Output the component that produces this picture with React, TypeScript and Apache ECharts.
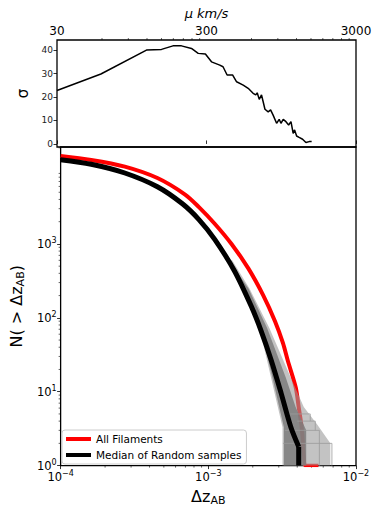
import React, { useEffect, useRef } from 'react';
import * as echarts from 'echarts';

const FONT = 'DejaVu Sans';

// ---- top panel: sigma vs mu (km/s) ----
const muValues = [30, 59, 119, 150, 179, 204, 238, 264, 295, 324, 368, 387, 412, 448, 477, 528, 570, 615, 641, 655, 676, 700, 718, 738, 776, 805, 837, 883, 919, 944, 978, 1020, 1063, 1102, 1140, 1165, 1202, 1250, 1318, 1387, 1459, 1515];
const sigmaValues = [22.8, 29.8, 40.0, 40.3, 41.8, 41.8, 40.7, 38.6, 38.3, 35.0, 33.6, 32.9, 29.4, 29.4, 26.5, 25.1, 23.7, 21.6, 20.9, 21.8, 19.0, 20.9, 18.0, 14.8, 13.7, 14.5, 12.3, 8.8, 10.5, 8.8, 10.5, 9.5, 8.1, 9.5, 4.5, 6.0, 3.4, 2.8, 2.0, 0.6, 1.0, 1.0];

// ---- bottom panel: cumulative counts ----
const redDz = [1.0e-4, 1.612e-4, 2.721e-4, 4.522e-4, 6.965e-4, 8.64e-4, 1.105e-3, 1.436e-3, 1.866e-3, 2.35e-3, 2.828e-3, 3.199e-3, 3.455e-3, 3.909e-3, 4.093e-3, 4.285e-3, 4.385e-3];
const redN = [15490, 13700, 11110, 7790, 4656, 3148, 1876, 997, 467, 203, 90, 45.7, 26.2, 11.4, 6.17, 3.33, 1.8];
const redTailDz = [4.385e-3, 4.487e-3, 5.57e-3];
const redTailN = [1.8, 1, 1];

const medianDz = [1.0e-4, 1.612e-4, 2.721e-4, 4.522e-4, 6.647e-4, 8.64e-4, 1.105e-3, 1.504e-3, 1.954e-3, 2.28e-3, 2.659e-3, 3.101e-3, 3.619e-3, 4.093e-3];
const medianN = [13820, 11960, 9117, 5939, 3517, 2135, 1152, 430, 143, 66.2, 27.1, 9.8, 3.33, 1.8];
const medianTailDz = [4.093e-3, 4.093e-3];
const medianTailN = [1.8, 1];

// envelope of the random samples (polygon ring)
const outerBandDz = [1.4e-3, 1.754e-3, 2.22e-3, 2.66e-3, 3.18e-3, 3.18e-3, 6.7e-3, 6.7e-3, 5.46e-3, 4.43e-3, 3.62e-3, 2.59e-3, 1.9e-3, 1.45e-3];
const outerBandN = [600, 249, 72.6, 15.5, 3.3, 1, 1, 2, 3.6, 6.2, 15.5, 72.6, 249, 600];
const innerBandDz = [1.45e-3, 1.8e-3, 2.25e-3, 2.72e-3, 3.25e-3, 3.25e-3, 4.6e-3, 4.6e-3, 3.9e-3, 3.35e-3, 2.5e-3, 1.87e-3, 1.47e-3];
const innerBandN = [500, 249, 72.6, 15.5, 3.3, 1, 1, 3, 6.2, 15.5, 72.6, 249, 500];

// a few individual random samples at the ragged tail
const sampleA_Dz = [3.3e-3, 5.65e-3, 5.65e-3];
const sampleA_N = [3, 3, 1];
const sampleB_Dz = [3.2e-3, 6.87e-3, 6.87e-3];
const sampleB_N = [2, 2, 1];
const sampleC_Dz = [4.0e-3, 5.3e-3, 5.3e-3];
const sampleC_N = [4, 4, 3];
const sampleD_Dz = [3.5e-3, 4.9e-3, 4.9e-3];
const sampleD_N = [5, 5, 4];

// ---- ticks ----
const muMajor = [30, 300, 3000];
const muMinor = [60, 90, 120, 150, 180, 210, 240, 270, 600, 900, 1200, 1500, 1800, 2100, 2400, 2700];
const sigmaTicks = [0, 10, 20, 30, 40];
const dzMajor = [1e-4, 1e-3, 1e-2];
const dzMinor = [2e-4, 3e-4, 4e-4, 5e-4, 6e-4, 7e-4, 8e-4, 9e-4, 2e-3, 3e-3, 4e-3, 5e-3, 6e-3, 7e-3, 8e-3, 9e-3];
const nMajor = [1, 10, 100, 1000];
const nMinor = [2, 3, 4, 5, 6, 7, 8, 9, 20, 30, 40, 50, 60, 70, 80, 90, 200, 300, 400, 500, 600, 700, 800, 900, 2000, 3000, 4000, 5000, 6000, 7000, 8000, 9000, 20000];

const legendNames = ['All Filaments', 'Median of Random samples'];

const pow10Label = (v: number) => {
  const e = Math.round(Math.log10(v));
  return `{b|10}{s|${e < 0 ? '\u2212' + -e : e}}`;
};
const powRich = {
  b: { fontSize: 11.5, lineHeight: 15, color: '#000', fontFamily: FONT },
  s: { fontSize: 8, lineHeight: 8, verticalAlign: 'top', color: '#000', fontFamily: FONT },
};

const pair = (xs: number[], ys: number[]) => xs.map((x, i) => [x, ys[i]]);

export default function App() {
  const ref = useRef<HTMLDivElement>(null);
  useEffect(() => {
    if (!ref.current) return;
    const chart = echarts.init(ref.current, null, { renderer: 'svg' });

    const tickLine = (axis: 'x' | 'y', where: 'top' | 'bottom' | 'left') => (params: any, api: any) => {
      const cs = params.coordSys;
      if (axis === 'x') {
        const x = api.coord([api.value(0), api.value(1)])[0];
        const y0 = where === 'top' ? cs.y : cs.y + cs.height;
        const y1 = where === 'top' ? y0 - 2 : y0 + 2;
        return { type: 'line', shape: { x1: x, y1: y0, x2: x, y2: y1 }, style: { stroke: '#000', lineWidth: 0.6 } };
      }
      const y = api.coord([api.value(0), api.value(1)])[1];
      return { type: 'line', shape: { x1: cs.x, y1: y, x2: cs.x - 2, y2: y }, style: { stroke: '#000', lineWidth: 0.6 } };
    };

    const polygonItem = (dz: number[], n: number[], fill: string) => (params: any, api: any) => ({
      type: 'polygon',
      shape: { points: dz.map((d, i) => api.coord([d, n[i]])) },
      style: { fill, stroke: 'none' },
    });

    const graySample = (dz: number[], n: number[]) => ({
      type: 'line',
      xAxisIndex: 1,
      yAxisIndex: 1,
      data: pair(dz, n),
      showSymbol: false,
      lineStyle: { color: '#9a9a9a', width: 0.8 },
      z: 3,
      silent: true,
    });

    const option: any = {
      animation: false,
      textStyle: { fontFamily: FONT },
      grid: [
        { left: 57, top: 40, width: 299, height: 107, show: true, borderColor: '#000', borderWidth: 1.3, backgroundColor: 'transparent' },
        { left: 57, top: 147, width: 299, height: 322, show: true, borderColor: '#000', borderWidth: 1.3, backgroundColor: 'transparent' },
      ],
      legend: {
        data: legendNames,
        orient: 'vertical',
        left: 62,
        top: 430,
        icon: 'rect',
        itemWidth: 25,
        itemHeight: 4,
        itemGap: 4,
        padding: [3, 5, 3, 4],
        borderColor: '#cccccc',
        borderWidth: 1,
        borderRadius: 3,
        backgroundColor: 'rgba(255,255,255,0.85)',
        selectedMode: false,
        textStyle: { fontSize: 10.5, color: '#000', fontFamily: FONT, lineHeight: 12 },
      },
      xAxis: [
        {
          gridIndex: 0,
          type: 'log',
          position: 'top',
          min: 30,
          max: 3000,
          axisLine: { show: false },
          splitLine: { show: false },
          axisTick: { show: true, length: 3.5, customValues: muMajor, lineStyle: { color: '#000', width: 0.8 } },
          axisLabel: { customValues: muMajor, fontSize: 12, color: '#000', margin: 3, fontFamily: FONT, formatter: (v: number) => String(Math.round(v)) },
          name: 'μ km/s',
          nameLocation: 'middle',
          nameGap: 20,
          nameTextStyle: { fontSize: 13, fontStyle: 'italic', color: '#000', fontFamily: FONT },
        },
        {
          gridIndex: 1,
          type: 'log',
          min: 1e-4,
          max: 1e-2,
          axisLine: { show: false },
          splitLine: { show: false },
          axisTick: { show: true, length: 3.5, customValues: dzMajor, lineStyle: { color: '#000', width: 0.8 } },
          axisLabel: { customValues: dzMajor, margin: 4, formatter: pow10Label, rich: powRich },
          name: '{t|Δz}{s|AB}',
          nameLocation: 'middle',
          nameGap: 19,
          nameTextStyle: {
            rich: {
              t: { fontSize: 16, lineHeight: 20, color: '#000', fontFamily: FONT },
              s: { fontSize: 11, lineHeight: 11, verticalAlign: 'bottom', color: '#000', fontFamily: FONT },
            },
          },
        },
      ],
      yAxis: [
        {
          gridIndex: 0,
          type: 'value',
          min: -1.3,
          max: 44.3,
          axisLine: { show: false },
          splitLine: { show: false },
          axisTick: { show: true, length: 3.5, customValues: sigmaTicks, lineStyle: { color: '#000', width: 0.8 } },
          axisLabel: { customValues: sigmaTicks, fontSize: 9, color: '#222', margin: 4, fontFamily: FONT },
          name: 'σ',
          nameLocation: 'middle',
          nameRotate: 90,
          nameGap: 22,
          nameTextStyle: { fontSize: 15, color: '#000', fontFamily: FONT },
        },
        {
          gridIndex: 1,
          type: 'log',
          min: 1,
          max: 20500,
          axisLine: { show: false },
          splitLine: { show: false },
          axisTick: { show: true, length: 3.5, customValues: nMajor, lineStyle: { color: '#000', width: 0.8 } },
          axisLabel: { customValues: nMajor, margin: 4, formatter: pow10Label, rich: powRich },
          name: '{t|N( > Δz}{s|AB}{t|)}',
          nameLocation: 'middle',
          nameRotate: 90,
          nameGap: 31,
          nameTextStyle: {
            rich: {
              t: { fontSize: 16, lineHeight: 20, color: '#000', fontFamily: FONT },
              s: { fontSize: 11, lineHeight: 11, verticalAlign: 'bottom', color: '#000', fontFamily: FONT },
            },
          },
        },
      ],
      series: [
        {
          type: 'line',
          name: 'sigma',
          xAxisIndex: 0,
          yAxisIndex: 0,
          data: pair(muValues, sigmaValues),
          showSymbol: false,
          lineStyle: { color: '#000', width: 1.5 },
          itemStyle: { color: '#000' },
          z: 2,
        },
        {
          type: 'line',
          name: 'All Filaments',
          xAxisIndex: 1,
          yAxisIndex: 1,
          data: pair(redDz, redN),
          showSymbol: false,
          smooth: 0.3,
          lineStyle: { color: '#ff0000', width: 4 },
          itemStyle: { color: '#ff0000' },
          z: 2,
        },
        {
          type: 'line',
          name: 'redTail',
          xAxisIndex: 1,
          yAxisIndex: 1,
          data: pair(redTailDz, redTailN),
          showSymbol: false,
          lineStyle: { color: '#ff0000', width: 3.5 },
          itemStyle: { color: '#ff0000' },
          z: 2,
        },
        {
          type: 'custom',
          name: 'bandOuter',
          xAxisIndex: 1,
          yAxisIndex: 1,
          data: [[outerBandDz[0], outerBandN[0]]],
          renderItem: polygonItem(outerBandDz, outerBandN, 'rgba(155,155,155,0.6)'),
          z: 3,
          silent: true,
        },
        {
          type: 'custom',
          name: 'bandInner',
          xAxisIndex: 1,
          yAxisIndex: 1,
          data: [[innerBandDz[0], innerBandN[0]]],
          renderItem: polygonItem(innerBandDz, innerBandN, 'rgba(125,125,125,0.85)'),
          z: 3,
          silent: true,
        },
        graySample(sampleA_Dz, sampleA_N),
        graySample(sampleB_Dz, sampleB_N),
        graySample(sampleC_Dz, sampleC_N),
        graySample(sampleD_Dz, sampleD_N),
        {
          type: 'line',
          name: 'Median of Random samples',
          xAxisIndex: 1,
          yAxisIndex: 1,
          data: pair(medianDz, medianN),
          showSymbol: false,
          smooth: 0.3,
          lineStyle: { color: '#000', width: 5 },
          itemStyle: { color: '#000' },
          z: 4,
        },
        {
          type: 'line',
          name: 'medianTail',
          xAxisIndex: 1,
          yAxisIndex: 1,
          data: pair(medianTailDz, medianTailN),
          showSymbol: false,
          lineStyle: { color: '#000', width: 5 },
          itemStyle: { color: '#000' },
          z: 4,
        },
        {
          type: 'custom',
          xAxisIndex: 0,
          yAxisIndex: 0,
          data: muMinor.map((v) => [v, 0]),
          renderItem: tickLine('x', 'top'),
          clip: false,
          silent: true,
        },
        {
          type: 'custom',
          xAxisIndex: 1,
          yAxisIndex: 1,
          data: dzMinor.map((v) => [v, 1]),
          renderItem: tickLine('x', 'bottom'),
          clip: false,
          silent: true,
        },
        {
          type: 'custom',
          xAxisIndex: 1,
          yAxisIndex: 1,
          data: nMinor.map((v) => [1e-4, v]),
          renderItem: tickLine('y', 'left'),
          clip: false,
          silent: true,
        },
      ],
    };
    chart.setOption(option);
    return () => chart.dispose();
  }, []);
  return <div ref={ref} style={{ position: 'absolute', left: 0, top: 0, width: 383, height: 511 }} />;
}
